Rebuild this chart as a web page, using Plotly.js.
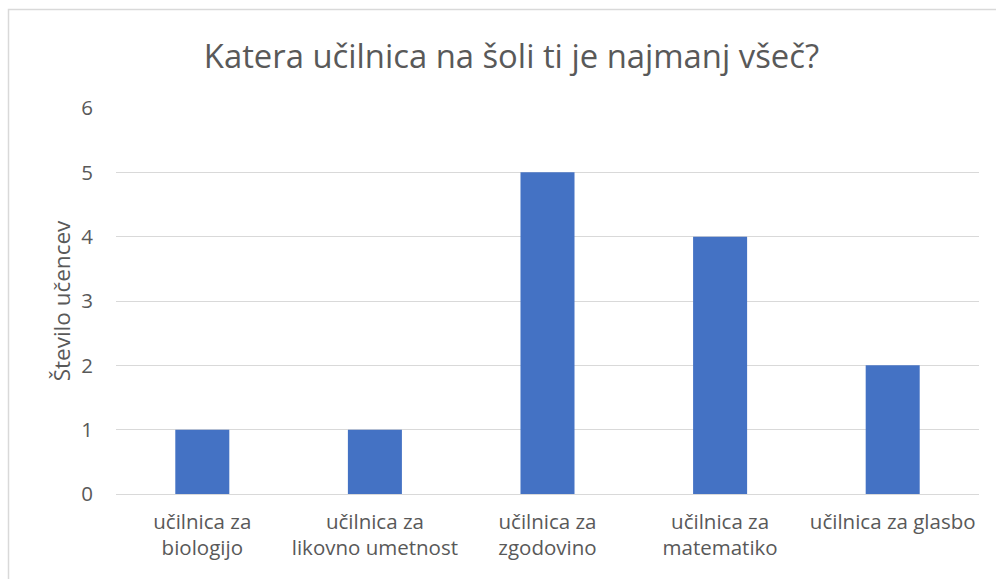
<!DOCTYPE html>
<html>
<head>
<meta charset="utf-8">
<script src="https://cdn.plot.ly/plotly-3.0.1.min.js"></script>
<style>html,body{margin:0;padding:0;background:#fff;}#chart{width:996px;height:579px;}</style>
</head>
<body>
<div id="chart"></div>
<script>
const categories = ["učilnica za<br>biologijo", "učilnica za<br>likovno umetnost", "učilnica za<br>zgodovino", "učilnica za<br>matematiko", "učilnica za glasbo"];
const values = [1, 1, 5, 4, 2];
const yTicks = [0, 1, 2, 3, 4, 5, 6];
const titleText = "Katera učilnica na šoli ti je najmanj všeč?";
const yTitle = "Število učencev";

const font = "Open Sans, Liberation Sans, sans-serif";
Plotly.newPlot("chart", [{
  type: "bar",
  x: categories,
  y: values,
  marker: {color: "#4472C4"},
  hoverinfo: "x+y"
}], {
  width: 996, height: 579,
  margin: {l: 116, r: 17, t: 108, b: 85},
  paper_bgcolor: "#fff", plot_bgcolor: "#fff",
  bargap: 0.687,
  showlegend: false,
  title: {text: titleText, font: {family: font, size: 32.8, color: "#595959"}, x: 0.5135, xanchor: "center", y: 0.902, yanchor: "middle"},
  xaxis: {
    tickfont: {family: font, size: 20.5, color: "#595959"},
    showgrid: false, showline: true, linecolor: "#d9d9d9", linewidth: 1,
    ticks: "outside", ticklen: 9, tickcolor: "rgba(0,0,0,0)",
    fixedrange: true
  },
  yaxis: {
    range: [0, 6], tickvals: yTicks,
    tickfont: {family: font, size: 20.5, color: "#595959"},
    gridcolor: "#d9d9d9", gridwidth: 1, zeroline: false,
    ticks: "outside", ticklen: 18, tickcolor: "rgba(0,0,0,0)",
    title: {text: yTitle, font: {family: font, size: 22.5, color: "#595959"}, standoff: 4},
    fixedrange: true
  },
  shapes: [{
    type: "rect", xref: "paper", yref: "paper",
    x0: (8.5 - 116) / 863, x1: (1010 - 116) / 863,
    y0: (494 - 600) / 386, y1: (494 - 9.5) / 386,
    line: {color: "#d9d9d9", width: 1.5}, fillcolor: "rgba(0,0,0,0)", layer: "below"
  }]
}, {displayModeBar: false, staticPlot: false});
</script>
</body>
</html>
